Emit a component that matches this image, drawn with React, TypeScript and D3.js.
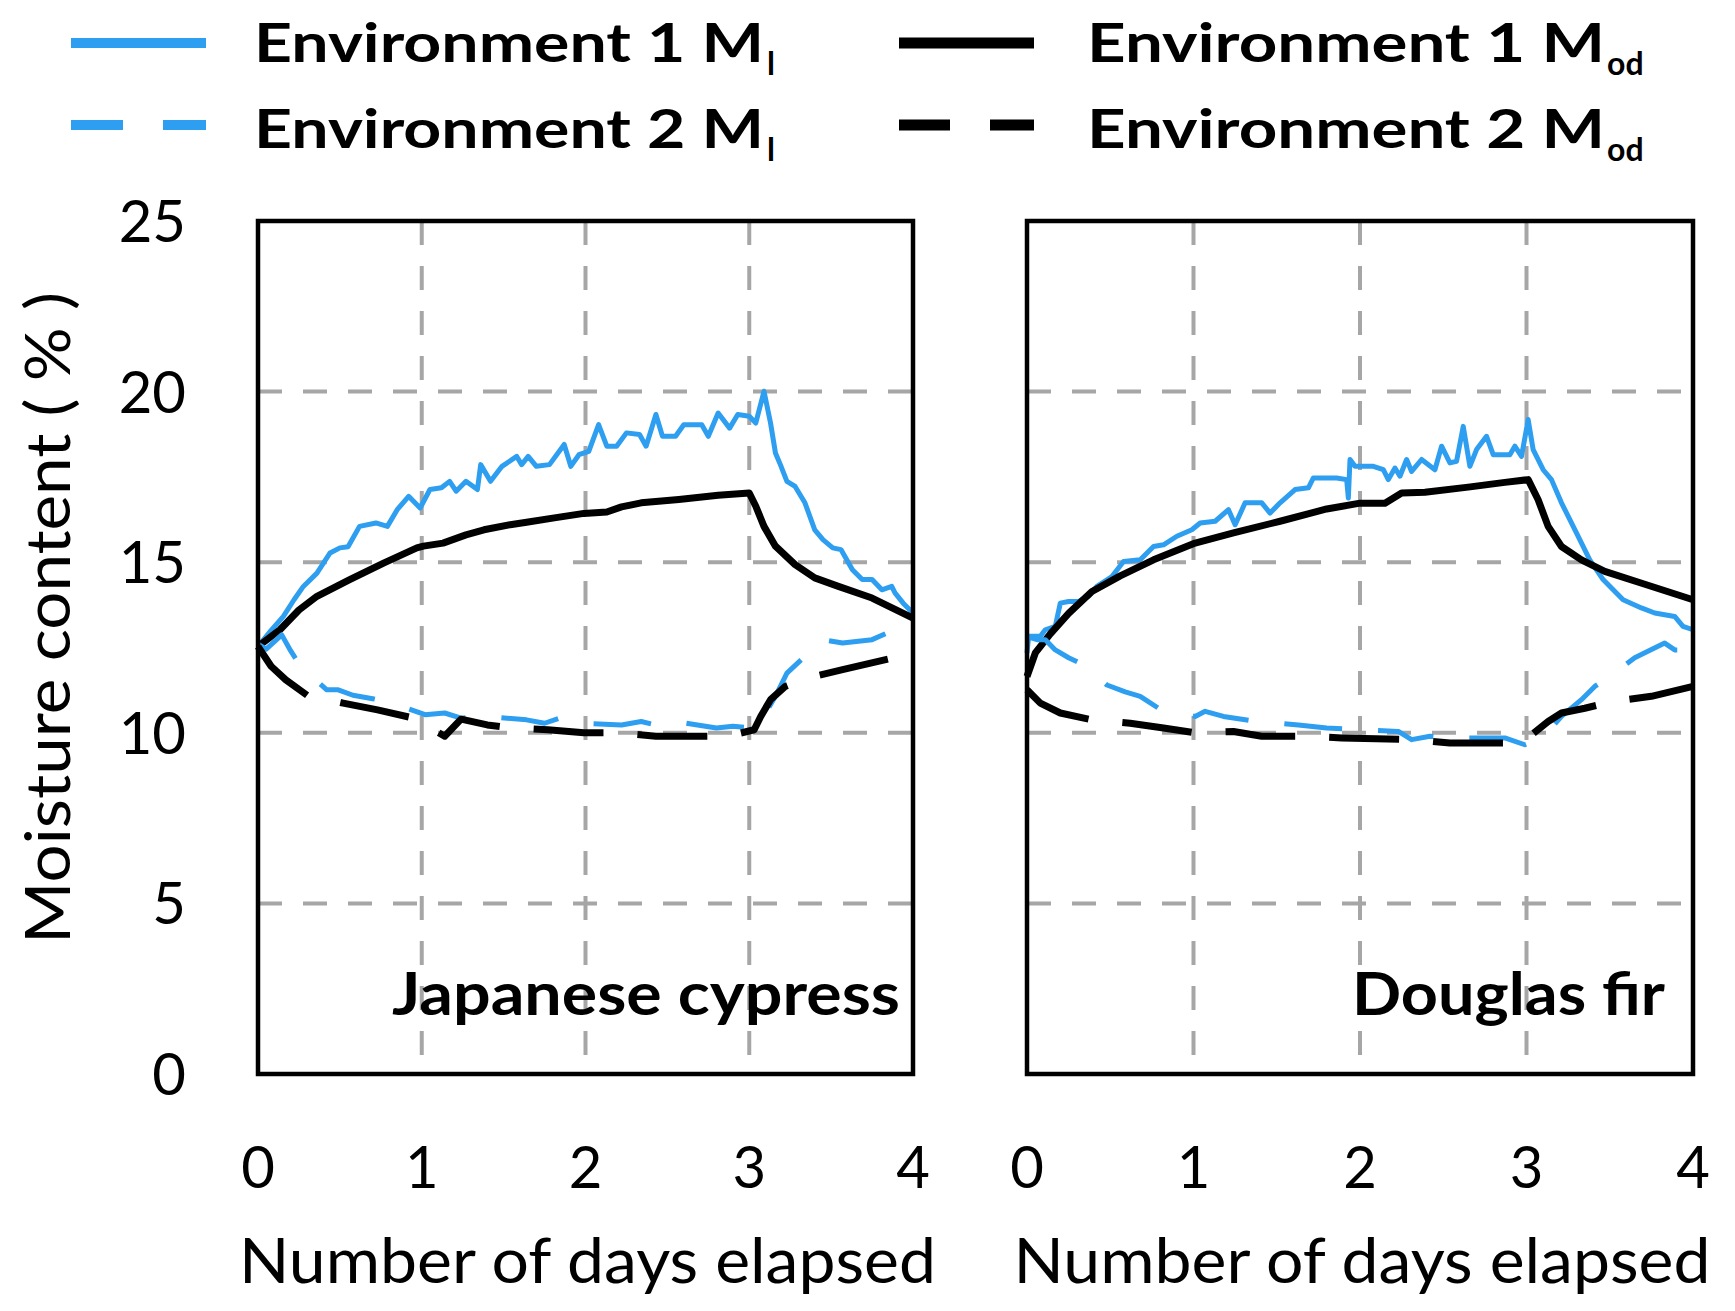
import React from "react";
import * as d3 from "d3";

type Pt = [number, number];

// ---------- Data (day, moisture content %) ----------
const cypressEnv1Ml: Pt[] = [
  [0, 12.53], [0.08, 13.0], [0.155, 13.41], [0.22, 13.9], [0.277, 14.29], [0.36, 14.68], [0.44, 15.27], [0.5, 15.42],
  [0.55, 15.45], [0.62, 16.05], [0.72, 16.15], [0.79, 16.05], [0.85, 16.54], [0.92, 16.93], [0.99, 16.59],
  [1.05, 17.13], [1.12, 17.18], [1.17, 17.37], [1.21, 17.08], [1.27, 17.37], [1.34, 17.13], [1.36, 17.86],
  [1.42, 17.37], [1.49, 17.81], [1.58, 18.1], [1.61, 17.86], [1.65, 18.1], [1.7, 17.81], [1.78, 17.86], [1.87, 18.45],
  [1.91, 17.81], [1.96, 18.15], [2.02, 18.25], [2.08, 19.03], [2.13, 18.4], [2.19, 18.4], [2.25, 18.79], [2.33, 18.74],
  [2.37, 18.4], [2.43, 19.33], [2.47, 18.69], [2.55, 18.69], [2.6, 19.03], [2.71, 19.03], [2.75, 18.69], [2.81, 19.37],
  [2.88, 18.93], [2.93, 19.33], [3.0, 19.28], [3.04, 19.08], [3.09, 20.01], [3.13, 19.08], [3.16, 18.2], [3.19, 17.86],
  [3.23, 17.37], [3.28, 17.22], [3.34, 16.74], [3.4, 15.95], [3.45, 15.66], [3.51, 15.42], [3.56, 15.37], [3.63, 14.78],
  [3.69, 14.49], [3.75, 14.49], [3.81, 14.19], [3.87, 14.29], [3.89, 14.1], [3.94, 13.8], [4.0, 13.51],
];
const cypressEnv1Mod: Pt[] = [
  [0, 12.53], [0.134, 13.02], [0.25, 13.6], [0.36, 14.0], [0.56, 14.49], [0.77, 14.98], [0.97, 15.42], [1.01, 15.47],
  [1.13, 15.56], [1.27, 15.8], [1.38, 15.95], [1.54, 16.1], [1.64, 16.17], [1.81, 16.3], [1.99, 16.43],
  [2.13, 16.47], [2.22, 16.62], [2.34, 16.74], [2.57, 16.84], [2.81, 16.96], [3.0, 17.03], [3.04, 16.64], [3.09, 16.05],
  [3.16, 15.47], [3.28, 14.93], [3.4, 14.54], [3.54, 14.3], [3.75, 13.95], [4.0, 13.36],
];
const cypressEnv2Ml: Pt[] = [
  [0, 12.6], [0.05, 12.45], [0.145, 12.87], [0.2, 12.4], [0.26, 11.95], [0.42, 11.26], [0.49, 11.26], [0.58, 11.1],
  [0.7, 11.0], [0.8, 10.9], [1.02, 10.53], [1.14, 10.58], [1.24, 10.43], [1.4, 10.48], [1.64, 10.38], [1.75, 10.28],
  [1.84, 10.43], [1.99, 10.28], [2.22, 10.23], [2.34, 10.33], [2.43, 10.23], [2.55, 10.33], [2.8, 10.14], [2.9, 10.19],
  [3.01, 10.14], [3.06, 10.23], [3.1, 10.58], [3.16, 11.07], [3.23, 11.75], [3.34, 12.24], [3.4, 12.53], [3.45, 12.73],
  [3.57, 12.63], [3.75, 12.73], [3.84, 12.92], [3.89, 12.97], [4.0, 13.2],
];
const cypressEnv2Mod: Pt[] = [
  [0, 12.53], [0.08, 11.95], [0.17, 11.55], [0.3, 11.1], [0.52, 10.87], [0.73, 10.67], [0.95, 10.43], [1.14, 9.9],
  [1.24, 10.4], [1.4, 10.23], [1.55, 10.14], [1.77, 10.09], [1.99, 10.0], [2.19, 10.0], [2.43, 9.9], [2.87, 9.9],
  [3.03, 10.09], [3.07, 10.48], [3.13, 10.97], [3.22, 11.36], [3.35, 11.6], [3.57, 11.85], [4.0, 12.33],
];

const firEnv1Ml: Pt[] = [
  [0, 12.34], [0.01, 12.83], [0.08, 12.83], [0.11, 13.02], [0.17, 13.12], [0.2, 13.8], [0.25, 13.85], [0.31, 13.85],
  [0.37, 14.0], [0.42, 14.29], [0.51, 14.58], [0.58, 15.02], [0.68, 15.07], [0.76, 15.46], [0.82, 15.51], [0.9, 15.76],
  [0.99, 15.95], [1.04, 16.15], [1.13, 16.2], [1.21, 16.54], [1.25, 16.1], [1.31, 16.74], [1.41, 16.74], [1.46, 16.44],
  [1.52, 16.74], [1.61, 17.13], [1.69, 17.18], [1.72, 17.47], [1.86, 17.47], [1.92, 17.42], [1.93, 16.88], [1.94, 18.01],
  [1.97, 17.81], [2.08, 17.81], [2.14, 17.71], [2.17, 17.42], [2.21, 17.76], [2.24, 17.52], [2.28, 18.01], [2.31, 17.66],
  [2.37, 18.01], [2.45, 17.71], [2.49, 18.4], [2.54, 17.91], [2.58, 17.96], [2.62, 18.98], [2.66, 17.81], [2.7, 18.3],
  [2.76, 18.69], [2.8, 18.15], [2.9, 18.15], [2.93, 18.4], [2.97, 18.1], [3.01, 19.18], [3.04, 18.3], [3.1, 17.71],
  [3.15, 17.42], [3.21, 16.74], [3.3, 15.86], [3.38, 15.07], [3.46, 14.49], [3.58, 13.9], [3.69, 13.66], [3.77, 13.51],
  [3.89, 13.41], [3.94, 13.12], [4.0, 13.02],
];
const firEnv1Mod: Pt[] = [
  [0, 11.65], [0.05, 12.34], [0.14, 12.9], [0.25, 13.5], [0.39, 14.14], [0.56, 14.6], [0.76, 15.07], [1.01, 15.56],
  [1.24, 15.86], [1.52, 16.2], [1.8, 16.56], [2.0, 16.73], [2.15, 16.73], [2.25, 17.03], [2.39, 17.05], [2.65, 17.2],
  [2.87, 17.34], [3.01, 17.42], [3.07, 16.83], [3.13, 16.05], [3.21, 15.46], [3.33, 15.07], [3.47, 14.73], [3.72, 14.34],
  [4.0, 13.9],
];
const firEnv2Ml: Pt[] = [
  [0, 12.82], [0.06, 12.73], [0.11, 12.73], [0.17, 12.43], [0.25, 12.2], [0.32, 12.04], [0.48, 11.4], [0.59, 11.2],
  [0.68, 11.07], [0.79, 10.72], [1.01, 10.48], [1.07, 10.63], [1.18, 10.48], [1.38, 10.33], [1.63, 10.23], [1.8, 10.14],
  [2.0, 10.09], [2.23, 10.04], [2.31, 9.8], [2.42, 9.9], [2.54, 9.85], [2.76, 9.85], [2.87, 9.85], [2.99, 9.65],
  [3.07, 9.8], [3.14, 10.09], [3.21, 10.48], [3.33, 10.97], [3.41, 11.36], [3.5, 11.65], [3.65, 12.2], [3.83, 12.63],
  [3.89, 12.43], [4.0, 12.43],
];
const firEnv2Mod: Pt[] = [
  [0, 11.26], [0.08, 10.87], [0.2, 10.58], [0.39, 10.38], [0.62, 10.28], [0.82, 10.14], [1.01, 10.0], [1.24, 10.04],
  [1.41, 9.9], [1.66, 9.9], [1.89, 9.85], [2.31, 9.8], [2.54, 9.7], [2.97, 9.7], [3.13, 10.33], [3.21, 10.58],
  [3.35, 10.72], [3.52, 10.92], [3.75, 11.07], [4.0, 11.36],
];

const yTicks = [0, 5, 10, 15, 20, 25];
const xTicks = [0, 1, 2, 3, 4];
const panelNames = ["Japanese cypress", "Douglas fir"];
const xTitle = "Number of days elapsed";
const yTitle = "Moisture content ( % )";

// ---------- Styles ----------
const BLUE = "#2e9ef0";
const BLACK = "#000000";
const GRID = "#a6a6a6";
const FONT = "Lato, 'Noto Sans', sans-serif";

const W = 1735;
const H = 1311;
const TOP = 221;
const BOTTOM = 1074;

const panels = [
  { name: panelNames[0], left: 258, right: 913, labelX: 900, labelLen: 508,
    series: [cypressEnv1Ml, cypressEnv1Mod, cypressEnv2Ml, cypressEnv2Mod] },
  { name: panelNames[1], left: 1027, right: 1693, labelX: 1665, labelLen: 313,
    series: [firEnv1Ml, firEnv1Mod, firEnv2Ml, firEnv2Mod] },
];

const seriesStyle = [
  { color: BLUE, width: 5, dash: undefined as string | undefined },
  { color: BLACK, width: 7, dash: undefined as string | undefined },
  { color: BLUE, width: 5, dash: "58 36" },
  { color: BLACK, width: 7, dash: "70 34" },
];

const legendItems = [
  { label: "Environment 1 M", sub: "l", color: BLUE, width: 10, dash: undefined as string | undefined, x: 71, y: 43, tx: 254, ty: 62, len: 510, subX: 767 },
  { label: "Environment 2 M", sub: "l", color: BLUE, width: 10, dash: "52 40", x: 71, y: 125, tx: 254, ty: 148, len: 510, subX: 767 },
  { label: "Environment 1 M", sub: "od", color: BLACK, width: 11, dash: undefined as string | undefined, x: 899, y: 43, tx: 1087, ty: 62, len: 518, subX: 1607 },
  { label: "Environment 2 M", sub: "od", color: BLACK, width: 11, dash: "51 40", x: 899, y: 125, tx: 1087, ty: 148, len: 518, subX: 1607 },
];

const y = d3.scaleLinear().domain([0, 25]).range([BOTTOM, TOP]);

function Panel({ p }: { p: typeof panels[number] }) {
  const x = d3.scaleLinear().domain([0, 4]).range([p.left, p.right]);
  const line = d3
    .line<Pt>()
    .x((d) => x(d[0]))
    .y((d) => y(d[1]))
    .curve(d3.curveLinear);
  return (
    <g>
      {yTicks.filter((t) => t > 0 && t < 25).map((t) => (
        <line key={"h" + t} x1={p.left} x2={p.right} y1={y(t)} y2={y(t)}
          stroke={GRID} strokeWidth={4} strokeDasharray="24 21" />
      ))}
      {xTicks.filter((t) => t > 0 && t < 4).map((t) => (
        <line key={"v" + t} x1={x(t)} x2={x(t)} y1={TOP} y2={BOTTOM}
          stroke={GRID} strokeWidth={4} strokeDasharray="24 21" />
      ))}
      {p.series.map((s, i) => (
        <path key={i} d={line(s) || ""} fill="none" stroke={seriesStyle[i].color}
          strokeWidth={seriesStyle[i].width} strokeDasharray={seriesStyle[i].dash}
          strokeLinejoin="round" strokeLinecap="butt" />
      ))}
      <rect x={p.left} y={TOP} width={p.right - p.left} height={BOTTOM - TOP}
        fill="none" stroke="#000" strokeWidth={4.5} />
      <text x={p.labelX} y={1015} textAnchor="end" fontFamily={FONT} fontWeight={700} fontSize={60}
        textLength={p.labelLen} lengthAdjust="spacingAndGlyphs">{p.name}</text>
      {xTicks.map((t) => (
        <text key={"xt" + t} x={x(t)} y={1188} textAnchor="middle" fontFamily={FONT} fontSize={58}>{t}</text>
      ))}
      <text x={(p.left + p.right) / 2 + 2} y={1283} textAnchor="middle" fontFamily={FONT} fontSize={62}
        textLength={697} lengthAdjust="spacingAndGlyphs">{xTitle}</text>
    </g>
  );
}

export default function App() {
  return (
    <div>
      <style>{`body{margin:0;background:#fff}`}</style>
      <svg width={W} height={H} viewBox={`0 0 ${W} ${H}`} style={{ display: "block", background: "#fff" }}>
        {/* Legend */}
        {legendItems.map((l, i) => (
          <g key={i}>
            <line x1={l.x} x2={l.x + 135} y1={l.y} y2={l.y} stroke={l.color} strokeWidth={l.width}
              strokeDasharray={l.dash} />
            <text x={l.tx} y={l.ty} fontFamily={FONT} fontWeight={700} fontSize={54}
              textLength={l.len} lengthAdjust="spacingAndGlyphs">{l.label}</text>
            <text x={l.subX} y={l.ty + 13} fontFamily={FONT} fontWeight={700} fontSize={32}>{l.sub}</text>
          </g>
        ))}
        {/* Y axis ticks */}
        {yTicks.map((t) => (
          <text key={t} x={186} y={y(t) + 21} textAnchor="end" fontFamily={FONT} fontSize={58}>{t}</text>
        ))}
        <text transform={`translate(70,618) rotate(-90)`} textAnchor="middle" fontFamily={FONT} fontSize={62}
          textLength={652} lengthAdjust="spacingAndGlyphs">{yTitle}</text>
        {panels.map((p, i) => (
          <Panel key={i} p={p} />
        ))}
      </svg>
    </div>
  );
}
